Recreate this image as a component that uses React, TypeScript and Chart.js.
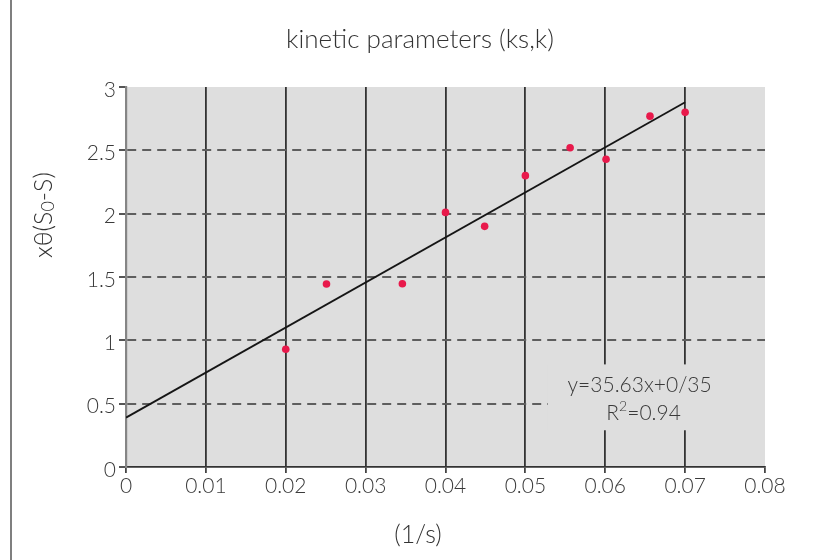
import { useEffect, useRef } from "react";
import { Chart, registerables } from "chart.js";

Chart.register(...registerables);

const chartTitle = "kinetic parameters (ks,k)";
const xAxisTitle = "(1/s)";
const yAxisTitleMain = "xθ(S";
const yAxisTitleSub = "0";
const yAxisTitleEnd = "-S)";
const equationText = "y=35.63x+0/35";
const r2Main = "R";
const r2Sup = "2";
const r2End = "=0.94";

const xTicks = [0, 0.01, 0.02, 0.03, 0.04, 0.05, 0.06, 0.07, 0.08];
const yTicks = [0, 0.5, 1, 1.5, 2, 2.5, 3];

const pointX = [0.02, 0.0251, 0.0346, 0.04, 0.0449, 0.05, 0.0556, 0.0601, 0.0656, 0.07];
const pointY = [0.93, 1.445, 1.447, 2.01, 1.9, 2.3, 2.52, 2.43, 2.77, 2.8];

const fitX = [0, 0.07];
const fitY = [0.39, 2.88];

// annotation box (data units)
const boxX = [0.0528, 0.08];
const boxY = [0.29, 0.81];
const eqPos = [0.0643, 0.647];
const r2Pos = [0.0648, 0.426];

const FONT = "Lato, 'Open Sans', sans-serif";
const PLOT_BG = "#dedede";

function drawPieces(ctx: any, pieces: { t: string; size: number; dy: number }[], cx: number, cy: number) {
  const widths = pieces.map((p) => {
    ctx.font = `300 ${p.size}px ${FONT}`;
    return ctx.measureText(p.t).width;
  });
  const total = widths.reduce((a, b) => a + b, 0);
  let x = cx - total / 2;
  ctx.textAlign = "left";
  ctx.textBaseline = "middle";
  pieces.forEach((p, i) => {
    ctx.font = `300 ${p.size}px ${FONT}`;
    ctx.fillText(p.t, x, cy + p.dy);
    x += widths[i];
  });
}

const decorPlugin = {
  id: "decor",
  beforeDraw(chart: any) {
    const { ctx, chartArea } = chart;
    ctx.save();
    ctx.fillStyle = "#ffffff";
    ctx.fillRect(0, 0, chart.width, chart.height);
    ctx.fillStyle = PLOT_BG;
    ctx.fillRect(chartArea.left, chartArea.top, chartArea.right - chartArea.left, chartArea.bottom - chartArea.top);
    ctx.restore();
  },
  beforeDatasetsDraw(chart: any) {
    const { ctx } = chart;
    const xs = chart.scales.x;
    const ys = chart.scales.y;
    const x1 = xs.getPixelForValue(boxX[0]);
    const x2 = xs.getPixelForValue(boxX[1]);
    const y1 = ys.getPixelForValue(boxY[1]);
    const y2 = ys.getPixelForValue(boxY[0]);
    ctx.save();
    ctx.fillStyle = PLOT_BG;
    ctx.fillRect(x1, y1, x2 - x1, y2 - y1);
    ctx.fillStyle = "#3a3a3a";
    drawPieces(ctx, [{ t: equationText, size: 21, dy: 0 }], xs.getPixelForValue(eqPos[0]), ys.getPixelForValue(eqPos[1]));
    drawPieces(
      ctx,
      [
        { t: r2Main, size: 21, dy: 0 },
        { t: r2Sup, size: 14, dy: -7 },
        { t: r2End, size: 21, dy: 0 },
      ],
      xs.getPixelForValue(r2Pos[0]),
      ys.getPixelForValue(r2Pos[1])
    );
    ctx.restore();
  },
  afterDraw(chart: any) {
    const { ctx } = chart;
    ctx.save();
    // page border line at left
    ctx.strokeStyle = "#555";
    ctx.lineWidth = 1.5;
    ctx.beginPath();
    ctx.moveTo(11, 0);
    ctx.lineTo(11, chart.height);
    ctx.stroke();

    ctx.fillStyle = "#333";
    drawPieces(ctx, [{ t: chartTitle, size: 26, dy: 0 }], 420, 40);
    drawPieces(ctx, [{ t: xAxisTitle, size: 25, dy: 0 }], 418, 535);

    // rotated y title with subscript
    ctx.translate(44, 215);
    ctx.rotate(-Math.PI / 2);
    drawPieces(
      ctx,
      [
        { t: yAxisTitleMain, size: 25, dy: 0 },
        { t: yAxisTitleSub, size: 18, dy: 4 },
        { t: yAxisTitleEnd, size: 25, dy: 0 },
      ],
      0,
      0
    );
    ctx.restore();
  },
};

export default function App() {
  const ref = useRef<HTMLCanvasElement | null>(null);

  useEffect(() => {
    document.body.style.margin = "0";
    const canvas = ref.current;
    if (!canvas) return;
    const chart = new Chart(canvas, {
      type: "scatter",
      data: {
        datasets: [
          {
            label: "fit",
            data: fitX.map((x, i) => ({ x, y: fitY[i] })),
            showLine: true,
            borderColor: "#151515",
            borderWidth: 1.8,
            pointRadius: 0,
            fill: false,
          },
          {
            label: "data",
            data: pointX.map((x, i) => ({ x, y: pointY[i] })),
            pointRadius: 3.8,
            pointBackgroundColor: "#e8194b",
            pointBorderWidth: 0,
            showLine: false,
          },
        ],
      },
      options: {
        responsive: false,
        animation: false,
        layout: { padding: { top: 87, right: 54, bottom: 0, left: 0 } },
        plugins: {
          legend: { display: false },
          title: { display: false },
          tooltip: { enabled: false },
        },
        scales: {
          x: {
            type: "linear",
            min: 0,
            max: 0.08,
            afterFit: (s: any) => {
              s.height = 93;
            },
            afterBuildTicks: (s: any) => {
              s.ticks = xTicks.map((v) => ({ value: v }));
            },
            ticks: {
              font: { family: FONT, size: 21, weight: "300" },
              color: "#3a3a3a",
              padding: 1,
              maxRotation: 0,
              autoSkip: false,
              callback: (v: any) => String(+Number(v).toFixed(2)),
            },
            grid: {
              color: (c: any) => (c.tick && c.tick.value > 0.001 && c.tick.value < 0.079 ? "#333" : "rgba(0,0,0,0)"),
              lineWidth: 1.8,
              tickColor: "#444",
              tickLength: 6,
              drawTicks: true,
            },
            border: { color: "#333", width: 1.8 },
          },
          y: {
            type: "linear",
            min: 0,
            max: 3,
            afterFit: (s: any) => {
              s.width = 126;
            },
            afterBuildTicks: (s: any) => {
              s.ticks = yTicks.map((v) => ({ value: v }));
            },
            ticks: {
              font: { family: FONT, size: 21, weight: "300" },
              color: "#3a3a3a",
              padding: 3,
              labelOffset: 3,
              autoSkip: false,
              callback: (v: any) => String(+Number(v).toFixed(1)),
            },
            grid: {
              color: (c: any) => (c.tick && c.tick.value > 0.01 && c.tick.value < 2.99 ? "#5e5e5e" : "rgba(0,0,0,0)"),
              lineWidth: 2,
              tickColor: "#555",
              tickLength: 7,
            },
            border: { color: "#858585", width: 2.2, dash: [9, 6] },
          },
        },
      },
      plugins: [decorPlugin],
    } as any);
    return () => chart.destroy();
  }, []);

  return <canvas ref={ref} width={819} height={560} style={{ display: "block", width: 819, height: 560 }} />;
}
